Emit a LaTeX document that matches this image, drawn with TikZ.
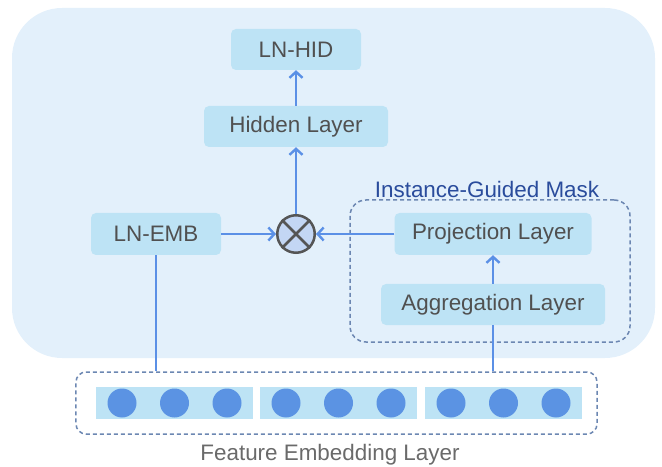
\documentclass[tikz,border=0pt]{standalone}
\usepackage{fontspec}
\setmainfont{Liberation Sans}
\usetikzlibrary{arrows.meta}
\definecolor{bgblue}{HTML}{E3F0FB}
\definecolor{boxblue}{HTML}{BDE3F5}
\definecolor{lineblue}{HTML}{5B90E6}
\definecolor{dotblue}{HTML}{5B93E3}
\definecolor{dashblue}{HTML}{6C87B2}
\definecolor{txtgray}{HTML}{505050}
\definecolor{maskblue}{HTML}{2A4C9C}
\definecolor{mulfill}{HTML}{C3D6F4}
\definecolor{mulgray}{HTML}{555555}
\tikzset{
  layer/.style={fill=boxblue, rounded corners=5bp, inner sep=0pt, text=txtgray,
    font=\fontsize{22.5}{25}\selectfont},
  flow/.style={draw=lineblue, line width=2.4bp, -{Straight Barb[length=6bp,width=13bp]}},
  link/.style={draw=lineblue, line width=2.4bp},
  group/.style={draw=dashblue, dash pattern=on 4bp off 3bp, line width=1.5bp,
    rounded corners=16bp, inner sep=0pt},
  cell/.style={fill=boxblue, minimum width=157bp, minimum height=32bp, inner sep=0pt},
  dot/.style={fill=dotblue, circle, minimum size=29bp, inner sep=0pt},
}
\begin{document}
\begin{tikzpicture}[x=1bp,y=-1bp]
        \useasboundingbox (0,0) rectangle (662,467);
        \fill[bgblue, rounded corners=50bp] (12,8) rectangle (655,358);

        \node[layer, minimum width=130bp, minimum height=41bp] (lnhid) at (296,49.5) {LN-HID};
        \node[layer, minimum width=184bp, minimum height=41bp] (hid) at (296,126.5) {Hidden Layer};
        \node[layer, minimum width=130bp, minimum height=42bp] (lnemb) at (156,234) {LN-EMB};
        \node[layer, minimum width=197bp, minimum height=42bp] (proj) at (493,234) {Projection Layer};
        \node[layer, minimum width=224bp, minimum height=41bp] (agg) at (493,304.5) {Aggregation Layer};
        \node[circle, draw=mulgray, fill=mulfill, line width=2.5bp, minimum size=37.5bp, inner sep=0pt] (mul) at (296,234) {};
        \draw[mulgray, line width=2.5bp] (mul.north west) -- (mul.south east) (mul.north east) -- (mul.south west);

        \node[group, minimum width=280bp, minimum height=142bp] (igm) at (490,271) {};
        \node[text=maskblue, font=\fontsize{22.5}{25}\selectfont] (igmlabel) at (487,189) {Instance-Guided Mask};

        \node[group, rounded corners=10bp, minimum width=521bp, minimum height=62bp] (feb) at (336.5,403) {};
        \foreach \i/\cx in {1/174.5, 2/338.5, 3/503.5} {
          \node[cell] (cell\i) at (\cx,403) {};
          \foreach \j/\dx in {1/-52.5, 2/0, 3/52.5}
            \node[dot] (dot\i\j) at (\cx+\dx,403) {};
        }
        \node[anchor=base, text=txtgray!85, font=\fontsize{22.5}{25}\selectfont] (feblabel) at (330,460.5) {Feature Embedding Layer};

        \draw[flow] (lnemb.east) -- (mul.west);
        \draw[flow] (proj.west) -- (mul.east);
        \draw[flow] (mul.north) -- (hid.south);
        \draw[flow] (hid.north) -- (lnhid.south);
        \draw[flow] (agg.north) -- (proj.south);
        \draw[link] (lnemb.south) -- (lnemb.south |- feb.north);
        \draw[link] (agg.south |- feb.north) -- (agg.south);
      \end{tikzpicture}
\end{document}
